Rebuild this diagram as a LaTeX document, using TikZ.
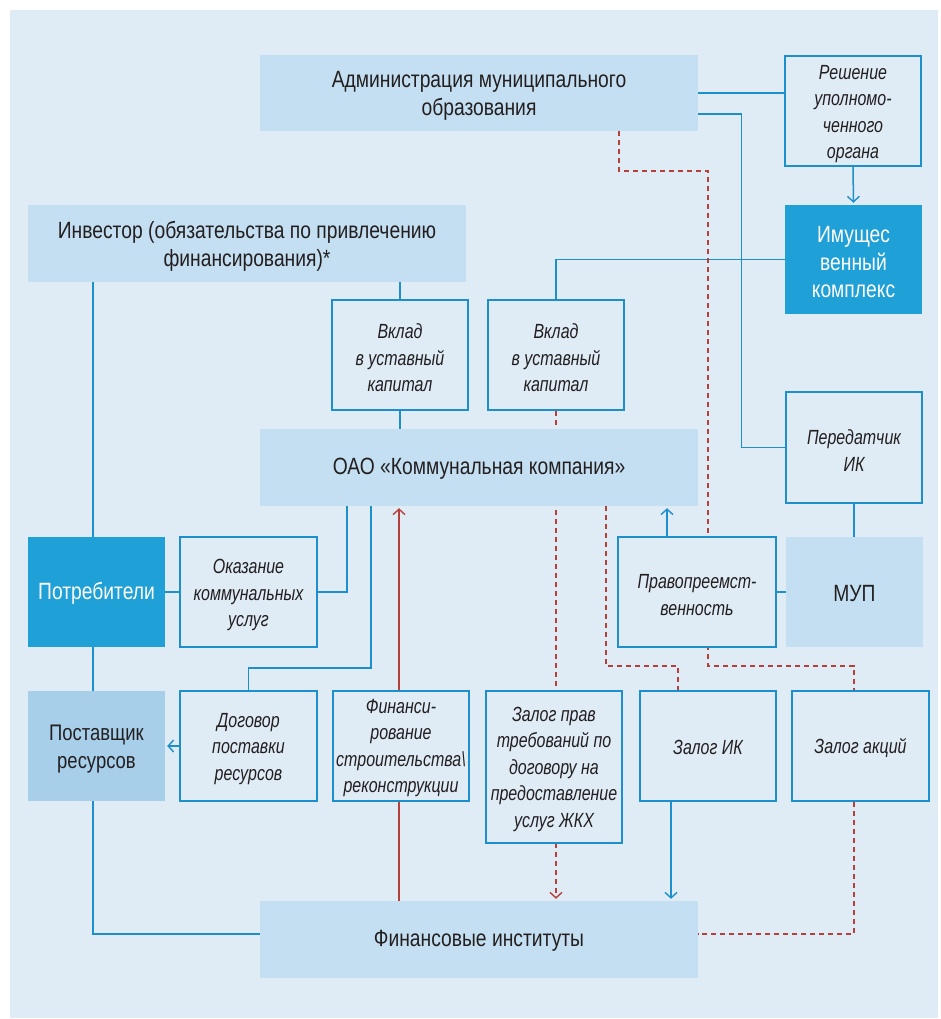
\documentclass[tikz,border=0pt]{standalone}
\usepackage{fontspec}
\setmainfont{Liberation Sans}[FakeStretch=0.82]
\newfontfamily\smallf{Liberation Sans}[FakeStretch=0.78]
\usetikzlibrary{arrows.meta,calc,backgrounds}
\definecolor{bg}{HTML}{DFECF6}
\definecolor{lightbox}{HTML}{C4DFF1}
\definecolor{strongbox}{HTML}{1FA0D6}
\definecolor{midbox}{HTML}{A8CFEA}
\definecolor{lineblue}{HTML}{1C8FCC}
\definecolor{linered}{HTML}{B5403A}
\definecolor{txt}{HTML}{231F20}
\pgfdeclarelayer{bgfill}
\pgfsetlayers{bgfill,background,main}
\tikzset{
  sz/.style 2 args={minimum width=#1pt, minimum height=#2pt},
  bigbox/.style={fill=lightbox, inner sep=0pt},
  bigtxt/.style={text=txt, font=\fontsize{23.5}{27.5}\selectfont, align=center, inner sep=0pt},
  strongbx/.style={fill=strongbox, inner sep=0pt},
  strongtxt/.style={text=white, font=\fontsize{23.5}{27.5}\selectfont, align=center, inner sep=0pt},
  midbx/.style={fill=midbox, inner sep=0pt},
  midtxt/.style={text=txt, font=\fontsize{22.5}{27.5}\selectfont, align=center, inner sep=0pt},
  smallbox/.style={draw=lineblue, line width=1.5pt, fill=bg, inner sep=0pt},
  smalltxt/.style={text=txt, font=\smallf\itshape\fontsize{20.5}{26.5}\selectfont, align=center, inner sep=0pt},
  bl/.style={draw=lineblue, line width=1.5pt},
  rdd/.style={draw=linered, line width=1.4pt, dash pattern=on 5pt off 4pt},
  rds/.style={draw=linered, line width=1.2pt},
  arr/.style={-{Straight Barb[length=5.5pt,width=12pt,line width=1.4pt]}, shorten >=2pt},
}
% \bx[shift]{box style}{text style}{name}{x,y}{w}{h}{text}
\newcommand\bx[8][3]{%
  \node[#2, sz={#6}{#7}] (#4) at (#5) {};
  \node[#3] (#4t) at ($(#4.center)+(0,#1)$) {#8};}
\begin{document}
\begin{tikzpicture}[x=1pt,y=-1pt]
\useasboundingbox (0,0) rectangle (940,1019);
\begin{pgfonlayer}{bgfill}
\fill[bg] (10,10) rectangle (938,1018);
\end{pgfonlayer}

\bx{bigbox}{bigtxt}{adm}{479,93}{438}{76}{Администрация муниципального\\образования}
\bx{smallbox}{smalltxt}{resh}{853,111}{136}{110}{Решение\\уполномо-\\ченного\\органа}
\bx{bigbox}{bigtxt}{inv}{247,243.5}{438}{77}{Инвестор (обязательства по привлечению\\финансирования)*}
\bx{strongbx}{strongtxt}{imk}{853.5,259.5}{137}{109}{Имущес\\венный\\комплекс}
\bx{smallbox}{smalltxt}{vk1}{400,355}{136}{110}{Вклад\\в уставный\\капитал}
\bx{smallbox}{smalltxt}{vk2}{556,355}{136}{110}{Вклад\\в уставный\\капитал}
\bx{smallbox}{smalltxt}{per}{854,447.5}{136}{111}{Передатчик\\ИК}
\bx[1.5]{bigbox}{bigtxt}{oao}{479,467.5}{438}{77}{ОАО «Коммунальная компания»}
\bx[1.5]{strongbx}{strongtxt}{potr}{96.5,592}{137}{110}{Потребители}
\bx{smallbox}{smalltxt}{okaz}{248.5,592}{137}{110}{Оказание\\коммунальных\\услуг}
\bx{smallbox}{smalltxt}{prav}{697,592}{158}{110}{Правопреемст-\\венность}
\bx[1.5]{bigbox}{bigtxt}{mup}{854.5,592}{137}{110}{МУП}
\bx{midbx}{midtxt}{post}{96.5,746}{137}{110}{Поставщик\\ресурсов}
\bx{smallbox}{smalltxt}{dog}{248.5,746}{137}{110}{Договор\\поставки\\ресурсов}
\bx[2]{smallbox}{smalltxt}{fin}{401,746}{136}{110}{Финанси-\\рование\\строительства\textbackslash\\реконструкции}
\bx[2]{smallbox}{smalltxt}{zpr}{554,767}{136}{152}{Залог прав\\требований по\\договору на\\предоставление\\услуг ЖКХ}
\bx[1.5]{smallbox}{smalltxt}{zik}{708,746}{136}{110}{Залог ИК}
\bx[1.5]{smallbox}{smalltxt}{zak}{860.5,746}{137}{110}{Залог акций}
\bx[1.5]{bigbox}{bigtxt}{finin}{479,939.5}{438}{77}{Финансовые институты}

\coordinate (c93) at (93,0);
\coordinate (c347) at (347,0);
\coordinate (c399) at (399,0);
\coordinate (c667) at (667,0);
\coordinate (c671) at (671,0);
\coordinate (c854) at (854,0);
\coordinate (c934) at (0,934);
\coordinate (a1) at (619,171);
\coordinate (a2) at (708,666);
\coordinate (d1) at (371,668);
\coordinate (e1) at (606,666);
\coordinate (e2) at (678,0);

\begin{pgfonlayer}{background}
\draw[bl] (adm.east) -- (adm.east -| resh.west);
\draw[bl] ($(adm.east)+(0,21)$) -| ($(per.west)+(-44,0)$) -- (per.west);
\draw[bl,arr] (resh.south) -- (imk.north);
\draw[bl] (imk.west) -| (vk2.north);
\draw[bl] (inv.south -| c93) -- (potr.north -| c93);
\draw[bl] (vk1.north |- inv.south) -- (vk1.north);
\draw[bl] (vk1.south) -- (vk1.south |- oao.north);
\draw[rdd,arr] (vk2.south) -- (vk2.south |- finin.north);
\draw[rdd] (adm.south -| a1) -- (a1) -| (a2) -| (zak.north -| c854);
\draw[bl] (potr.east) -- (okaz.west);
\draw[bl] (okaz.east) -| (oao.south -| c347);
\draw[bl] (oao.south -| d1) -- (d1) -| (dog.north);
\draw[rds,arr] (finin.north -| c399) -- (oao.south -| c399);
\draw[bl] (potr.south -| c93) -- (post.north -| c93);
\draw[bl,arr] (dog.west) -- (post.east);
\draw[bl] (post.south -| c93) |- (finin.west |- c934);
\draw[rdd] (oao.south -| e1) -- (e1) -| (zik.north -| e2);
\draw[bl] (per.south) -- (per.south |- mup.north);
\draw[bl,arr] (prav.north -| c667) -- (oao.south -| c667);
\draw[bl] (prav.east) -- (mup.west);
\draw[bl,arr] (zik.south -| c671) -- (finin.north -| c671);
\draw[rdd] (zak.south -| c854) |- (finin.east |- c934);
\end{pgfonlayer}
\end{tikzpicture}
\end{document}
